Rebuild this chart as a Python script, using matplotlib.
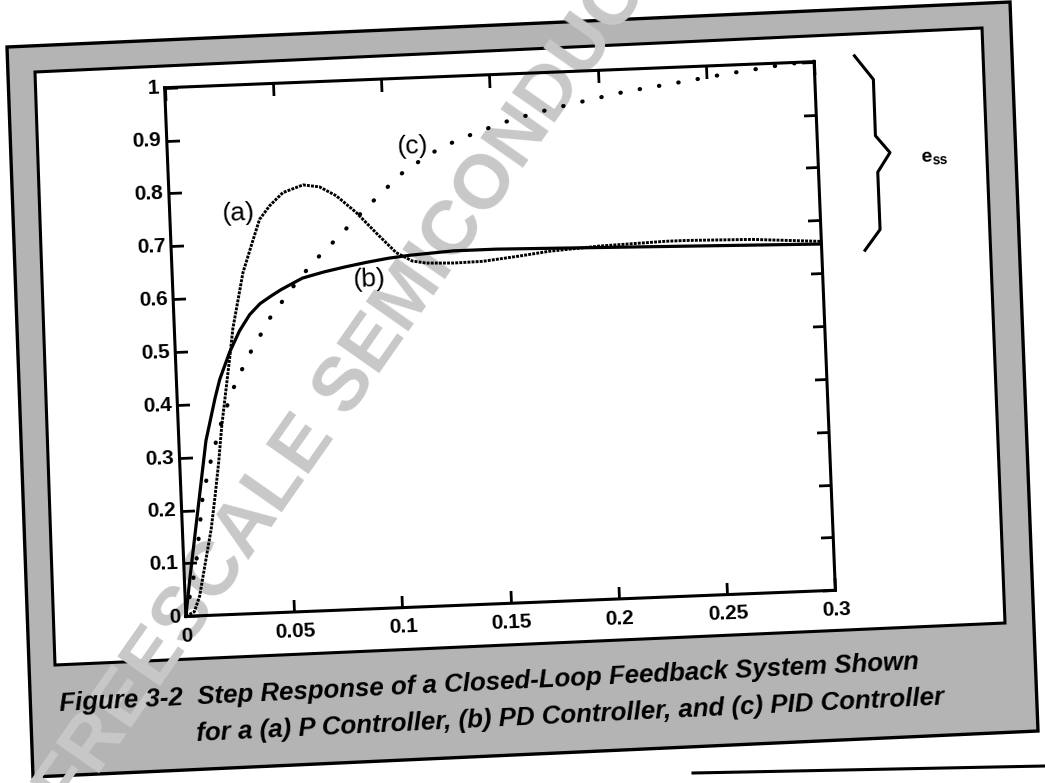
import numpy as np
import matplotlib
matplotlib.use("Agg")
import matplotlib.pyplot as plt
from matplotlib.patches import Polygon
from matplotlib.lines import Line2D
from matplotlib.transforms import Affine2D
import mpl_toolkits.axisartist.floating_axes as floating_axes
from mpl_toolkits.axisartist.grid_finder import FixedLocator, DictFormatter

plt.rcParams['font.family'] = ['Liberation Sans', 'DejaVu Sans']
plt.rcParams['mathtext.default'] = 'regular'

# (a) P controller
t_a = [0, 0.004, 0.0067, 0.01, 0.0133, 0.0157, 0.018, 0.02, 0.025, 0.027, 0.0327,
       0.037, 0.0413, 0.0462, 0.0526, 0.062, 0.0696, 0.0771, 0.086, 0.0948, 0.1037,
       0.111, 0.1174, 0.13, 0.1435, 0.16, 0.1744, 0.1976, 0.2284, 0.2377, 0.268, 0.3]
y_a = [0, 0.008, 0.037, 0.10, 0.163, 0.225, 0.289, 0.355, 0.485, 0.54, 0.645,
       0.695, 0.744, 0.769, 0.793, 0.806, 0.801, 0.783, 0.750, 0.710, 0.671,
       0.654, 0.649, 0.647, 0.648, 0.655, 0.662, 0.668, 0.672, 0.672, 0.669, 0.660]

# (b) PD controller
t_b = [0, 0.0025, 0.005, 0.0075, 0.01, 0.0125, 0.015, 0.0175, 0.02, 0.0225, 0.025,
       0.03, 0.035, 0.04, 0.045, 0.05, 0.06, 0.07, 0.08, 0.09, 0.1, 0.11, 0.13,
       0.15, 0.2, 0.25, 0.3]
y_b = [0, 0.07, 0.135, 0.2, 0.265, 0.33, 0.37, 0.41, 0.445, 0.47, 0.495,
       0.535, 0.565, 0.585, 0.598, 0.61, 0.63, 0.64, 0.648, 0.655, 0.661, 0.665, 0.67,
       0.67, 0.665, 0.66, 0.655]

# (c) PID controller
t_c = [0, 0.0057, 0.01, 0.0146, 0.0199, 0.0259, 0.0293, 0.0329, 0.0367, 0.0408,
       0.0449, 0.0498, 0.0546, 0.0643, 0.0699, 0.0755, 0.0806, 0.0915, 0.0971,
       0.1027, 0.1083, 0.1146, 0.1209, 0.128, 0.1436, 0.16, 0.177, 0.1945, 0.2127,
       0.2318, 0.26, 0.2886, 0.3]
y_c = [0, 0.098, 0.226, 0.295, 0.363, 0.425, 0.453, 0.481, 0.508, 0.533,
       0.561, 0.585, 0.61, 0.655, 0.677, 0.698, 0.718, 0.761, 0.781,
       0.802, 0.822, 0.838, 0.854, 0.869, 0.893, 0.914, 0.93, 0.944, 0.958,
       0.968, 0.984, 0.998, 1.0]

x_ticks = [0, 0.05, 0.1, 0.15, 0.2, 0.25, 0.3]
x_tick_labels = ['0', '0.05', '0.1', '0.15', '0.2', '0.25', '0.3']
y_ticks = [0, 0.1, 0.2, 0.3, 0.4, 0.5, 0.6, 0.7, 0.8, 0.9, 1]
y_tick_labels = ['0', '0.1', '0.2', '0.3', '0.4', '0.5', '0.6', '0.7', '0.8', '0.9', '1']

caption1 = 'Figure 3-2  Step Response of a Closed-Loop Feedback System Shown'
caption2 = 'for a (a) P Controller, (b) PD Controller, and (c) PID Controller'
watermark = 'FREESCALE SEMICONDUCTOR, INC.'

W_PX, H_PX = 1045, 783
fig = plt.figure(figsize=(W_PX / 100, H_PX / 100), dpi=100)


def fpt(x, y):
    # pixel position (from top left) -> figure fraction
    return (x / W_PX, 1 - y / H_PX)


# scanned page frame: shaded band with a white panel inside
outer = [(7, 47), (1010, 2), (1038, 731), (33, 777)]
inner = [(35, 72), (982, 28), (1005, 623), (55, 665)]
fig.add_artist(Polygon([fpt(*p) for p in outer], closed=True, transform=fig.transFigure,
                       facecolor='#b4b4b4', edgecolor='black', lw=2.4, zorder=-5))
fig.add_artist(Polygon([fpt(*p) for p in inner], closed=True, transform=fig.transFigure,
                       facecolor='white', edgecolor='black', lw=2.2, zorder=-4))
sx0, sy0 = fpt(693, 773)
sx1, sy1 = fpt(1045, 766)
fig.add_artist(Line2D([sx0, sx1], [sy0, sy1], transform=fig.transFigure,
                      color='black', lw=2.2, zorder=-4))

wx, wy = fpt(70, 815)
fig.text(wx, wy, watermark, rotation=55, rotation_mode='anchor', ha='left', va='baseline',
         fontsize=55, fontweight='bold', color='#c8c8c8', zorder=-3)

cx1, cy1 = fpt(60, 711)
fig.text(cx1, cy1, caption1, rotation=2.8, rotation_mode='anchor', ha='left',
         va='baseline', fontsize=18.6, fontweight='bold', style='italic')
cx2, cy2 = fpt(197, 741)
fig.text(cx2, cy2, caption2, rotation=2.8, rotation_mode='anchor', ha='left',
         va='baseline', fontsize=18.6, fontweight='bold', style='italic')

# tilted plot (the scan is rotated a little)
ang = 2.3
plot_w, plot_h = 650.0, 529.0
sx = plot_w / (0.3 * plot_h)
tr = Affine2D().scale(sx, 1).rotate_deg(ang)
gh = floating_axes.GridHelperCurveLinear(
    tr, extremes=(0, 0.3, 0, 1),
    grid_locator1=FixedLocator(x_ticks),
    tick_formatter1=DictFormatter(dict(zip(x_ticks, x_tick_labels))),
    grid_locator2=FixedLocator(y_ticks),
    tick_formatter2=DictFormatter(dict(zip(y_ticks, y_tick_labels))))

th = np.deg2rad(ang)
bw = (plot_w * np.cos(th) + plot_h * np.sin(th)) * 1.02
bh = (plot_w * np.sin(th) + plot_h * np.cos(th)) * 1.02
pcx, pcy = 500, 339
ax = fig.add_axes([(pcx - bw / 2) / W_PX, 1 - (pcy + bh / 2) / H_PX, bw / W_PX, bh / H_PX],
                  axes_class=floating_axes.FloatingAxes, grid_helper=gh)
ax.patch.set_facecolor('none')

for side in ['left', 'right', 'top', 'bottom']:
    axis = ax.axis[side]
    axis.line.set_linewidth(2.2)
    axis.major_ticks.set_ticksize(9)
    axis.major_ticks.set_markeredgewidth(2)
for side in ['right', 'top']:
    ax.axis[side].major_ticklabels.set_visible(False)
for side, pad in [('left', 4), ('bottom', 8)]:
    tl = ax.axis[side].major_ticklabels
    tl.set_fontsize(15)
    tl.set_fontweight('bold')
    tl.set_pad(pad)

aux = ax.get_aux_axes(tr)
aux.plot(t_b, y_b, color='black', lw=2.3, solid_capstyle='round')
aux.plot(t_a, y_a, color='black', lw=2.1, linestyle=(0, (1.0, 0.4)))
aux.plot(t_c, y_c, color='black', lw=3, linestyle=(0, (0.1, 4.6)), dash_capstyle='round')

aux.text(0.0315, 0.758, '(a)', ha='center', va='center', fontsize=19, rotation=ang)
aux.text(0.0909, 0.622, '(b)', ha='center', va='center', fontsize=19, rotation=ang)
aux.text(0.1133, 0.870, '(c)', ha='center', va='center', fontsize=19, rotation=ang)

# steady-state error brace from 1 down to the final value of (b)
top = 1.0
bot = y_b[-1] - 0.01
mid = (top + bot) / 2
bx = [0.3187, 0.327, 0.3269, 0.3333, 0.3273, 0.3273, 0.320]
by = [top + 0.008, top - 0.038, mid + 0.033, mid, mid - 0.036, bot + 0.033, bot - 0.005]
aux.plot(bx, by, color='black', lw=2.2, clip_on=False)
aux.text(0.347, mid - 0.012, r'e$_{ss}$', ha='left', va='center', fontsize=14,
         fontweight='bold', rotation=ang)

fig.savefig('out.png', dpi=100)
